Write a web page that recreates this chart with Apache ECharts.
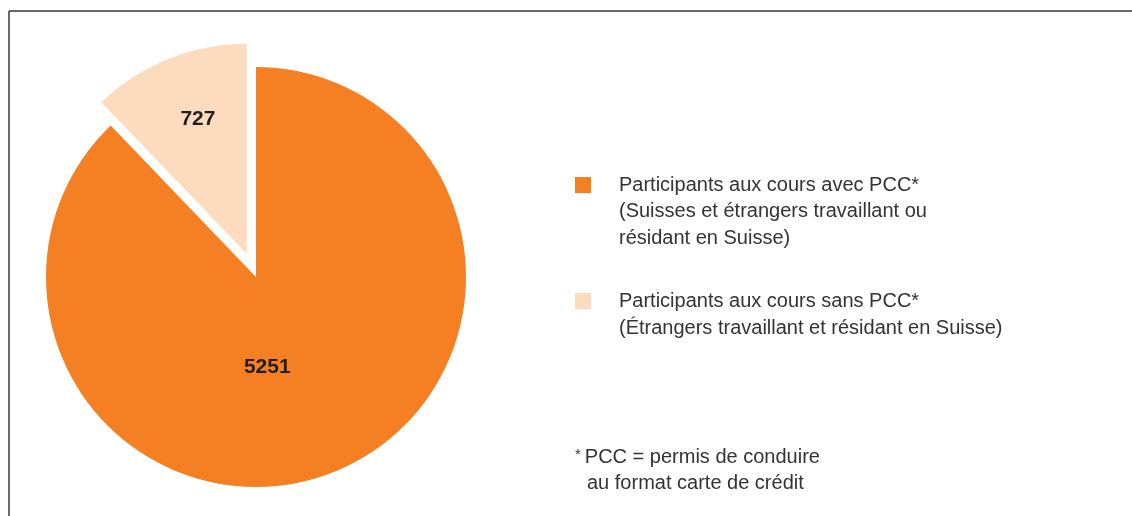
<!DOCTYPE html>
<html>
<head>
<meta charset="utf-8">
<script src="https://cdn.jsdelivr.net/npm/echarts@6/dist/echarts.min.js"></script>
<style>
  html, body { margin: 0; padding: 0; background: #fff; }
  #main { width: 1132px; height: 516px; }
</style>
</head>
<body>
<div id="main"></div>
<script>
// donnees
const categories = [
  'Participants aux cours avec PCC*',
  'Participants aux cours sans PCC*'
];
const subLines = [
  ['(Suisses et étrangers travaillant ou', 'résidant en Suisse)'],
  ['(Étrangers travaillant et résidant en Suisse)']
];
const values = [5251, 727];
const colors = ['#f58023', '#fcdbbe'];
const footnote = ['PCC = permis de conduire', 'au format carte de crédit'];

const FONT = '"Liberation Sans", Arial, sans-serif';
const LH = 26.5;
const TEXT_X = 619;

const chart = echarts.init(document.getElementById('main'), null, { renderer: 'canvas' });

// centre vertical de la premiere ligne de chaque entree
const firstLineY = [185, 302];
const legendTop = [175, 291];

// une legende par categorie (premiere ligne seulement), le reste en texte
const legends = categories.map((name, i) => ({
  left: 575,
  top: legendTop[i],
  padding: 0,
  orient: 'vertical',
  itemWidth: 16,
  itemHeight: 16,
  icon: 'rect',
  selectedMode: false,
  data: [name],
  formatter: n => '{t|' + n + '}',
  textStyle: {
    rich: {
      t: {
        fontFamily: FONT,
        fontSize: 20,
        color: '#333',
        lineHeight: 26,
        padding: [0, 0, 0, TEXT_X - 596]
      }
    }
  }
}));

const subText = [];
subLines.forEach((lines, i) => {
  lines.forEach((t, j) => {
    subText.push({
      type: 'text',
      style: {
        x: TEXT_X,
        y: firstLineY[i] + (j + 1) * LH,
        text: t,
        verticalAlign: 'middle',
        fontFamily: FONT,
        fontSize: 20,
        fill: '#333'
      }
    });
  });
});

// decalage des etiquettes dans les secteurs
const labelShift = [[-29, -10], [-8.5, -34.5]];

const option = {
  backgroundColor: '#fff',
  animation: false,
  color: colors,
  legend: legends,
  graphic: [
    { type: 'line', shape: { x1: 9, y1: 11, x2: 1132, y2: 11 }, style: { stroke: '#3a3a3a', lineWidth: 1.5 } },
    { type: 'line', shape: { x1: 9, y1: 11, x2: 9, y2: 516 }, style: { stroke: '#3a3a3a', lineWidth: 1.5 } },
    {
      type: 'text',
      style: {
        x: 575, y: 457.5,
        verticalAlign: 'middle',
        text: '{s|*}{m|' + footnote[0] + '}',
        rich: {
          s: { fontFamily: FONT, fontSize: 15, fill: '#333', padding: [0, 4, 6, 0] },
          m: { fontFamily: FONT, fontSize: 20, fill: '#333' }
        }
      }
    },
    {
      type: 'text',
      style: { x: 587, y: 483, verticalAlign: 'middle', text: footnote[1], fontFamily: FONT, fontSize: 20, fill: '#333' }
    }
  ].concat(subText),
  series: [{
    type: 'pie',
    center: [256, 277],
    radius: 210,
    startAngle: 90,
    clockwise: true,
    selectedMode: 'single',
    selectedOffset: 25,
    avoidLabelOverlap: false,
    emphasis: { disabled: true },
    label: {
      show: true,
      position: 'inside',
      fontFamily: FONT,
      fontSize: 21,
      fontWeight: 'bold',
      color: '#231f20',
      formatter: p => String(p.value)
    },
    labelLine: { show: false },
    labelLayout: p => ({ dx: labelShift[p.dataIndex][0], dy: labelShift[p.dataIndex][1] }),
    data: [
      { name: categories[0], value: values[0] },
      { name: categories[1], value: values[1], selected: true }
    ]
  }]
};

chart.setOption(option);
</script>
</body>
</html>
